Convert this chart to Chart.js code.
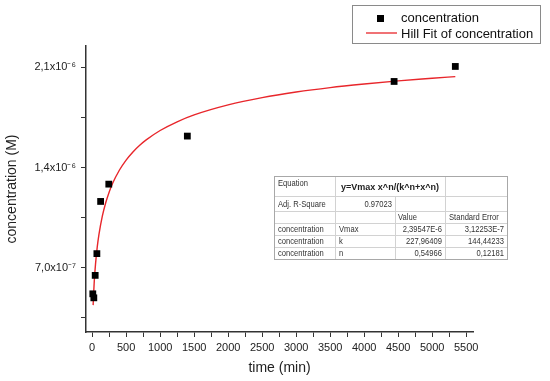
<!DOCTYPE html>
<html>
<head>
<meta charset="utf-8">
<script src="https://cdn.jsdelivr.net/npm/chart.js@4"></script>
<style>
  html, body { margin: 0; padding: 0; background: #fff; }
  #wrap { width: 550px; height: 381px; position: relative; }
</style>
</head>
<body>
<div id="wrap"><canvas id="chart"></canvas></div>
<script>
// measured points
const timeMin = [10, 25, 45, 70, 125, 245, 1400, 4440, 5340];
const concentration = [5.17e-7, 4.89e-7, 6.46e-7, 7.98e-7, 1.163e-6, 1.284e-6, 1.62e-6, 2.002e-6, 2.107e-6];

// Hill fit curve
const fitTime = [15, 20, 30, 40, 50, 75, 100, 150, 200, 250, 300, 400, 500, 600, 700, 800, 1000, 1250, 1500, 2000, 2500, 3000, 3500, 4000, 4500, 5000, 5340];
const fitConc = [4.38e-7, 4.97e-7, 5.92e-7, 6.65e-7, 7.25e-7, 8.43e-7, 9.31e-7, 1.06e-6, 1.154e-6, 1.228e-6, 1.288e-6, 1.381e-6, 1.452e-6, 1.509e-6, 1.556e-6, 1.595e-6, 1.659e-6, 1.72e-6, 1.768e-6, 1.838e-6, 1.889e-6, 1.928e-6, 1.959e-6, 1.984e-6, 2.006e-6, 2.024e-6, 2.036e-6];

const xTicks = [0, 250, 500, 750, 1000, 1250, 1500, 1750, 2000, 2250, 2500, 2750, 3000, 3250, 3500, 3750, 4000, 4250, 4500, 4750, 5000, 5250, 5500];
const yTicks = [3.5e-7, 7.0e-7, 1.05e-6, 1.4e-6, 1.75e-6, 2.1e-6];
const yTickLabels = ["", "7,0x10\u207B\u2077", "", "1,4x10\u207B\u2076", "", "2,1x10\u207B\u2076"];

const seriesNames = ["concentration", "Hill Fit of concentration"];

// fit result table
const fitEquation = "y=Vmax x^n/(k^n+x^n)";
const adjR2 = "0.97023";
const paramNames = ["Vmax", "k", "n"];
const paramValues = ["2,39547E-6", "227,96409", "0,54966"];
const paramErrors = ["3,12253E-7", "144,44233", "0,12181"];

const FONT = "'Liberation Sans', Arial, sans-serif";
const RED = "#e8262b";

// narrow text, like the condensed font of the table
function narrowText(ctx, text, x, y, k = 0.8) {
  const w = ctx.measureText(text).width * k;
  ctx.fillText(text, x, y, w);
}

const overlayPlugin = {
  id: "overlay",
  afterDraw(chart) {
    const ctx = chart.ctx;
    ctx.save();

    // legend box
    ctx.strokeStyle = "#8a8a8a";
    ctx.lineWidth = 1;
    ctx.strokeRect(352.5, 5.5, 188, 38);
    ctx.fillStyle = "#000";
    ctx.fillRect(377, 15, 7, 7);
    ctx.strokeStyle = RED;
    ctx.lineWidth = 1.3;
    ctx.beginPath();
    ctx.moveTo(366, 33);
    ctx.lineTo(397, 33);
    ctx.stroke();
    ctx.fillStyle = "#111";
    ctx.font = "13px " + FONT;
    ctx.textBaseline = "middle";
    ctx.textAlign = "left";
    ctx.fillText(seriesNames[0], 401, 18);
    ctx.fillText(seriesNames[1], 401, 34);

    // results table
    const cols = [274, 335, 395, 445, 507];
    const rows = [176, 196, 211, 223, 235, 247, 259];
    ctx.fillStyle = "#fff";
    ctx.fillRect(cols[0], rows[0], cols[4] - cols[0], rows[6] - rows[0]);
    ctx.strokeStyle = "#d2d2d2";
    ctx.lineWidth = 1;
    ctx.beginPath();
    for (let i = 1; i < rows.length - 1; i++) {
      ctx.moveTo(cols[0], rows[i] + 0.5);
      ctx.lineTo(cols[4], rows[i] + 0.5);
    }
    ctx.moveTo(cols[1] + 0.5, rows[0]); ctx.lineTo(cols[1] + 0.5, rows[6]);
    ctx.moveTo(cols[2] + 0.5, rows[1]); ctx.lineTo(cols[2] + 0.5, rows[6]);
    ctx.moveTo(cols[3] + 0.5, rows[0]); ctx.lineTo(cols[3] + 0.5, rows[6]);
    ctx.stroke();
    ctx.strokeStyle = "#a8a8a8";
    ctx.strokeRect(cols[0] + 0.5, rows[0] + 0.5, cols[4] - cols[0], rows[6] - rows[0]);

    ctx.fillStyle = "#333";
    ctx.font = "9.5px " + FONT;
    const mid = (r) => (rows[r] + rows[r + 1]) / 2 + 0.5;
    ctx.textAlign = "left";
    narrowText(ctx, "Equation", cols[0] + 4, rows[0] + 7);
    narrowText(ctx, "Adj. R-Square", cols[0] + 4, mid(1));
    narrowText(ctx, "Value", cols[2] + 3, mid(2));
    narrowText(ctx, "Standard Error", cols[3] + 4, mid(2));
    for (let i = 0; i < paramNames.length; i++) {
      narrowText(ctx, seriesNames[0], cols[0] + 4, mid(3 + i));
      narrowText(ctx, paramNames[i], cols[1] + 4, mid(3 + i));
    }
    ctx.textAlign = "right";
    narrowText(ctx, adjR2, cols[2] - 3, mid(1));
    for (let i = 0; i < paramNames.length; i++) {
      narrowText(ctx, paramValues[i], cols[3] - 3, mid(3 + i));
      narrowText(ctx, paramErrors[i], cols[4] - 3, mid(3 + i));
    }
    ctx.textAlign = "center";
    ctx.fillStyle = "#222";
    ctx.font = "bold 9.5px " + FONT;
    narrowText(ctx, fitEquation, (cols[1] + cols[3]) / 2, rows[0] + 11, 0.95);

    ctx.restore();
  }
};

new Chart(document.getElementById("chart"), {
  type: "scatter",
  data: {
    datasets: [
      {
        label: seriesNames[1],
        type: "line",
        data: fitTime.map((t, i) => ({ x: t, y: fitConc[i] })),
        borderColor: RED,
        borderWidth: 1.4,
        pointRadius: 0,
        cubicInterpolationMode: "monotone",
        fill: false,
        order: 2,
      },
      {
        label: seriesNames[0],
        data: timeMin.map((t, i) => ({ x: t, y: concentration[i] })),
        pointStyle: "rect",
        pointRadius: 4.8,
        backgroundColor: "#000",
        borderWidth: 0,
        order: 1,
      },
    ],
  },
  options: {
    responsive: true,
    maintainAspectRatio: false,
    animation: false,
    layout: { padding: { top: 46, right: 77, left: 0, bottom: 0 } },
    plugins: {
      legend: { display: false },
      tooltip: { enabled: false },
    },
    scales: {
      x: {
        type: "linear",
        min: -90,
        max: 5600,
        afterBuildTicks: (scale) => { scale.ticks = xTicks.map((v) => ({ value: v })); },
        afterFit: (scale) => { scale.height = 49; },
        border: { display: true, color: "#333", width: 1.5 },
        grid: { drawOnChartArea: false, drawTicks: true, tickLength: 5, color: "#333" },
        ticks: {
          autoSkip: false,
          maxRotation: 0,
          padding: 4,
          color: "#222",
          font: { family: FONT, size: 11 },
          callback: (v) => (v % 500 === 0 ? String(v) : ""),
        },
        title: {
          display: true,
          text: "time (min)",
          color: "#222",
          font: { family: FONT, size: 14 },
          padding: { top: 0, bottom: 4 },
        },
      },
      y: {
        type: "linear",
        min: 2.5e-7,
        max: 2.25e-6,
        afterBuildTicks: (scale) => { scale.ticks = yTicks.map((v) => ({ value: v })); },
        afterFit: (scale) => { scale.width = 86; },
        border: { display: true, color: "#333", width: 1.5 },
        grid: { drawOnChartArea: false, drawTicks: true, tickLength: 5, color: "#333" },
        ticks: {
          autoSkip: false,
          padding: 5,
          color: "#222",
          font: { family: FONT, size: 11 },
          callback: (v, i) => yTickLabels[i],
        },
        title: {
          display: true,
          text: "concentration (M)",
          color: "#222",
          font: { family: FONT, size: 14 },
          padding: { top: 4, bottom: 4 },
        },
      },
    },
  },
  plugins: [overlayPlugin],
});
</script>
</body>
</html>
